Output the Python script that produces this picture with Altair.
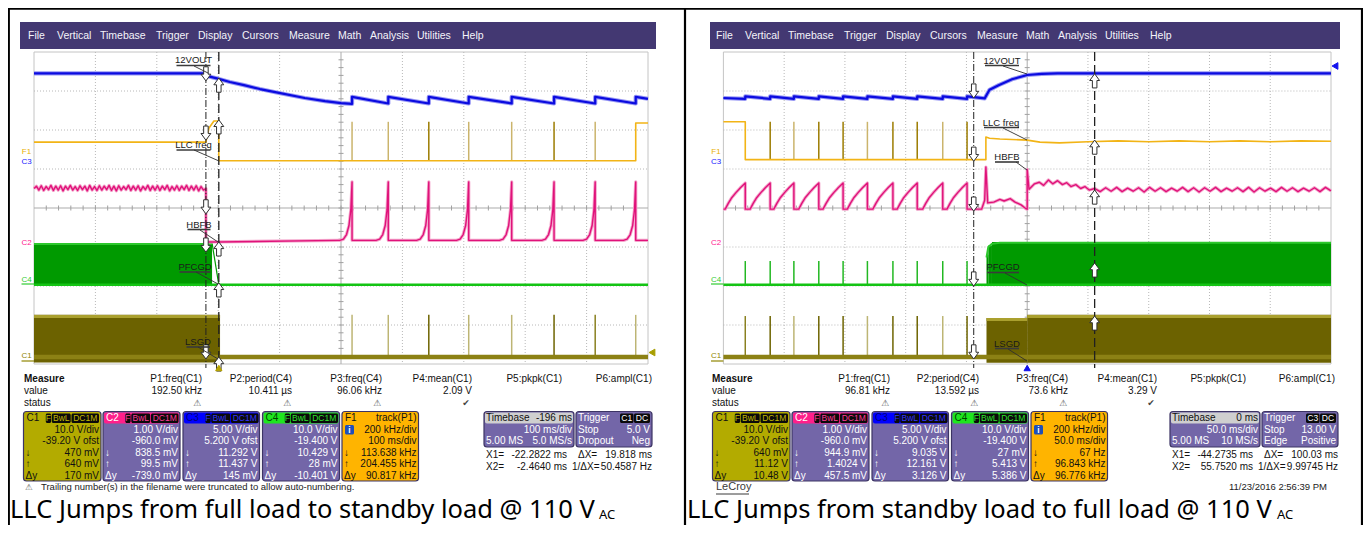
import altair as alt
import pandas as pd

# ===================== values =====================
# Scope traces in screen divisions: x 0..10 (left -> right), y 0..8 (bottom -> top)
BURST_L = [5.18, 5.77, 6.43, 7.08, 7.78, 8.47, 9.14, 9.80]
BURST_R = [0.36, 0.77, 1.16, 1.57, 1.97, 2.37, 2.79, 3.19, 3.61, 4.01]
CURSOR_L = [2.80, 3.01]
CURSOR_R = [4.12, 6.11]

# C3 blue : 12VOUT
BLUE_L_X = [0, 2.80, 2.83, 3.01, 3.19, 3.42, 3.68, 3.99, 4.41, 4.74, 5.00, 5.18, 5.18, 5.77, 5.77,
            6.43, 6.43, 7.08, 7.08, 7.78, 7.78, 8.47, 8.47, 9.14, 9.14, 9.80, 9.80, 10.0]
BLUE_L_Y = [7.45, 7.45, 7.38, 7.31, 7.23, 7.15, 7.05, 6.95, 6.82, 6.74, 6.69, 6.67, 6.85, 6.68, 6.85,
            6.68, 6.85, 6.68, 6.85, 6.68, 6.85, 6.68, 6.85, 6.68, 6.85, 6.68, 6.85, 6.80]
BLUE_R_X = [0, 0.36, 0.36, 0.77, 0.77, 1.16, 1.16, 1.57, 1.57, 1.97, 1.97, 2.37, 2.37, 2.79, 2.79,
            3.19, 3.19, 3.61, 3.61, 4.01, 4.01, 4.30, 4.38, 4.53, 4.75, 5.00, 5.24, 5.50, 10.0]
BLUE_R_Y = [6.82, 6.80, 6.86, 6.80, 6.86, 6.80, 6.86, 6.80, 6.86, 6.80, 6.86, 6.80, 6.86, 6.80, 6.86,
            6.80, 6.86, 6.80, 6.86, 6.80, 6.86, 6.81, 7.03, 7.15, 7.30, 7.41, 7.44, 7.45, 7.45]

# F1 yellow : LLC freq
YEL_L_X = [0, 2.80, 2.85, 2.93, 3.01, 3.01, 9.80, 9.80, 10.0]
YEL_L_Y = [5.69, 5.69, 6.05, 6.23, 6.23, 5.21, 5.21, 6.18, 6.18]
YEL_R_X = [0, 0.36, 0.36, 4.32, 4.32, 4.38, 4.55, 5.00, 5.21, 5.53, 6.0, 6.5, 7.0, 7.5, 8.0, 8.5, 9.0, 9.5, 10.0]
YEL_R_Y = [6.21, 6.21, 5.24, 5.24, 5.82, 5.79, 5.77, 5.74, 5.69, 5.67, 5.70, 5.72, 5.70, 5.72, 5.70, 5.72, 5.70, 5.72, 5.71]
YEL_SPIKE_L = (5.21, 6.21)
YEL_SPIKE_R = (5.24, 6.21)
YEL_SPIKE_L_C = ["#cbb46c", "#cbb46c", "#9c7c00", "#cbb46c", "#cbb46c", "#9c7c00", "#cbb46c"]
YEL_SPIKE_R_C = ["#9c7c00", "#cbb46c", "#9c7c00", "#9c7c00", "#cbb46c", "#9c7c00", "#9c7c00", "#cbb46c", "#9c7c00"]

# C2 magenta : HBFB
MAG_L_OSC = [4.50, 4.56, 4.46, 4.57, 4.45, 4.55, 4.47, 4.58, 4.45, 4.56, 4.46, 4.57, 4.44, 4.56, 4.47, 4.58,
             4.46, 4.55, 4.45, 4.57, 4.47, 4.56, 4.44, 4.58, 4.46, 4.55, 4.45, 4.57, 4.46, 4.56, 4.47, 4.58,
             4.45, 4.56, 4.44, 4.57, 4.46, 4.55, 4.47, 4.58, 4.45, 4.56, 4.46, 4.57, 4.44, 4.55, 4.47, 4.58,
             4.45, 4.56, 4.46, 4.57, 4.45, 4.56, 4.47, 4.58, 4.44, 4.55, 4.46, 4.57, 4.45, 4.56, 4.47, 4.58,
             4.45, 4.56, 4.46, 4.57, 4.44, 4.55, 4.46, 4.50]
MAG_L_MID_X = [2.80, 3.01, 4.95]
MAG_L_MID_Y = [3.13, 3.13, 3.17]
FIN_L_DX = [-0.20, -0.14, -0.09, -0.05, -0.02, 0.0, 0.0]
FIN_L_Y = [3.17, 3.20, 3.32, 3.55, 3.95, 4.67, 3.17]
MAG_L_END = (10.0, 3.17)

FIN_R_DX = [-0.33, -0.28, -0.22, -0.15, -0.08, 0.0, 0.0]
FIN_R_Y = [3.97, 4.12, 4.27, 4.40, 4.52, 4.64, 3.97]
MAG_R_START = (0.0, 3.97)
MAG_R_MID_X = [4.25, 4.30, 4.32, 4.35, 4.45, 4.55, 4.62, 4.72, 4.80, 4.90, 4.98, 5.00, 5.00, 5.03,
               5.12, 5.20, 5.27, 5.35, 5.42, 5.50, 5.58, 5.65, 5.72, 5.80, 5.88, 5.95, 6.02]
MAG_R_MID_Y = [3.97, 4.20, 5.05, 4.13, 4.15, 4.22, 4.18, 4.24, 4.15, 4.08, 3.98, 3.97, 4.99, 4.48,
               4.62, 4.66, 4.58, 4.72, 4.62, 4.70, 4.60, 4.65, 4.55, 4.60, 4.50, 4.55, 4.46]
MAG_R_RIP = [4.50, 4.42, 4.52, 4.43, 4.53, 4.42, 4.51, 4.43, 4.52, 4.41, 4.53, 4.43, 4.52, 4.42, 4.51,
             4.43, 4.53, 4.42, 4.52, 4.41, 4.52, 4.43, 4.53, 4.42, 4.51, 4.43, 4.52, 4.42, 4.53, 4.41,
             4.52, 4.43, 4.51, 4.42, 4.53, 4.43, 4.52, 4.42, 4.51, 4.43, 4.52, 4.42, 4.53, 4.44]

# C4 green : PFCGD  (bands: x0, x1, y_bottom, y_top)
GRN_BANDS_L = [(0.0, 2.90, 2.00, 3.10)]
GRN_BANDS_R = [(4.33, 4.36, 2.00, 2.80), (4.36, 4.42, 2.00, 3.04), (4.42, 10.0, 2.00, 3.13)]
GRN_EDGE_R_X = [4.33, 4.36, 4.42, 4.55, 10.0]
GRN_EDGE_R_Y = [2.75, 3.02, 3.10, 3.13, 3.13]
GRN_LINE = 2.03
GRN_SPIKE_R = 2.64

# C1 olive : LSGD
OLV_BANDS_L = [(0.0, 3.03, 0.04, 1.26)]
OLV_BANDS_R = [(4.33, 5.00, 0.03, 1.18), (5.00, 10.0, 0.03, 1.26)]
OLV_LINE = 0.18
OLV_SPIKE_L = 1.26
OLV_SPIKE_R = 1.23
OLV_SPIKE_L_C = ["#bdb574", "#bdb574", "#6e6400", "#bdb574", "#bdb574", "#6e6400", "#8a8020", "#bdb574"]
OLV_SPIKE_R_C = ["#8a8020", "#6e6400", "#bdb574", "#6e6400", "#6e6400", "#bdb574", "#6e6400", "#6e6400", "#bdb574", "#6e6400"]

# cursor arrow markers (y in divisions): blue, yellow, magenta, green, olive
ARR_L_DN = [7.44, 5.92, 4.03, 3.05, 0.31]
ARR_L_UP = [7.15, 6.08, 2.95, 1.90, 0.00]
ARR_R_DN = [7.00, 5.38, 4.10, 2.18, 0.31]
ARR_R_UP = [7.26, 5.56, 4.28, 2.41, 1.05]

# ------------- texts -------------
MENU = ["File", "Vertical", "Timebase", "Trigger", "Display", "Cursors", "Measure", "Math",
        "Analysis", "Utilities", "Help"]
MEAS_HDR = ["P1:freq(C1)", "P2:period(C4)", "P3:freq(C4)", "P4:mean(C1)", "P5:pkpk(C1)", "P6:ampl(C1)"]
VAL = {"L": ["192.50 kHz", "10.411 µs", "96.06 kHz", "2.09 V"],
       "R": ["96.81 kHz", "13.592 µs", "73.6 kHz", "3.29 V"]}
BOXES = {
    "L": {"C1": ["10.0 V/div", "-39.20 V ofst", "470 mV", "640 mV", "170 mV"],
          "C2": ["1.00 V/div", "-960.0 mV", "838.5 mV", "99.5 mV", "-739.0 mV"],
          "C3": ["5.00 V/div", "5.200 V ofst", "11.292 V", "11.437 V", "145 mV"],
          "C4": ["10.0 V/div", "-19.400 V", "10.429 V", "28 mV", "-10.401 V"],
          "F1": ["200 kHz/div", "100 ms/div", "113.638 kHz", "204.455 kHz", "90.817 kHz"]},
    "R": {"C1": ["10.0 V/div", "-39.20 V ofst", "640 mV", "11.12 V", "10.48 V"],
          "C2": ["1.00 V/div", "-960.0 mV", "944.9 mV", "1.4024 V", "457.5 mV"],
          "C3": ["5.00 V/div", "5.200 V ofst", "9.035 V", "12.161 V", "3.126 V"],
          "C4": ["10.0 V/div", "-19.400 V", "27 mV", "5.413 V", "5.386 V"],
          "F1": ["200 kHz/div", "50.0 ms/div", "67 Hz", "96.843 kHz", "96.776 kHz"]},
}
TB = {"L": ["-196 ms", "100 ms/div", "5.00 MS", "5.0 MS/s"], "R": ["0 ms", "50.0 ms/div", "5.00 MS", "10 MS/s"]}
TRIG = {"L": ["C1", "DC", "Stop", "5.0 V", "Dropout", "Neg"], "R": ["C3", "DC", "Stop", "13.00 V", "Edge", "Positive"]}
CURS = {"L": ["-22.2822 ms", "19.818 ms", "-2.4640 ms", "50.4587 Hz"],
        "R": ["-44.2735 ms", "100.03 ms", "55.7520 ms", "9.99745 Hz"]}
CAPTION = {"L": "LLC Jumps from full load to standby load @ 110 V",
           "R": "LLC Jumps from standby load to full load @ 110 V"}
TRACE_LABELS = ["12VOUT", "LLC freq", "HBFB", "PFCGD", "LSGD"]

# ===================== layout =====================
UI = "Liberation Sans Narrow, Liberation Sans, Arial, sans-serif"
CAPF = "Noto Sans"
XS = alt.Scale(domain=[8, 1363], nice=False, zero=False)
YS = alt.Scale(domain=[525, 8], nice=False, zero=False)
GRID = {"L": (34.0, 648.0), "R": (723.4, 1331.0)}
GT, GB = 52.0, 364.0


def gx(p, v):
    a, b = GRID[p]
    return a + v * (b - a) / 10.0


def gy(v):
    return GB - v * (GB - GT) / 8.0


layers = []
texts = []
X = lambda: alt.X("x:Q", scale=XS, axis=None)
Y = lambda: alt.Y("y:Q", scale=YS, axis=None)


def rects(rows, **mk):
    df = pd.DataFrame(rows, columns=["x", "x2", "y", "y2", "f"])
    layers.append(alt.Chart(df).mark_rect(**mk).encode(
        x=X(), x2="x2:Q", y=Y(), y2="y2:Q", fill=alt.Fill("f:N", scale=None)))


def rules(rows, color, width=1.0, dash=None):
    df = pd.DataFrame(rows, columns=["x", "y", "x2", "y2"])
    mk = dict(color=color, strokeWidth=width)
    if dash:
        mk["strokeDash"] = dash
    layers.append(alt.Chart(df).mark_rule(**mk).encode(x=X(), y=Y(), x2="x2:Q", y2="y2:Q"))


def crules(rows, width=1.0):
    df = pd.DataFrame(rows, columns=["x", "y", "x2", "y2", "c"])
    layers.append(alt.Chart(df).mark_rule(strokeWidth=width).encode(
        x=X(), y=Y(), x2="x2:Q", y2="y2:Q", color=alt.Color("c:N", scale=None)))


def line(xs, ys, color, width, opacity=1.0):
    df = pd.DataFrame({"x": xs, "y": ys, "i": list(range(len(xs)))})
    layers.append(alt.Chart(df).mark_line(color=color, strokeWidth=width, opacity=opacity,
                                          strokeJoin="round").encode(x=X(), y=Y(), order="i:Q"))


def points(rows, shape, size, fill, stroke, sw=1.0):
    df = pd.DataFrame(rows, columns=["x", "y"])
    layers.append(alt.Chart(df).mark_point(shape=shape, size=size, filled=True, fill=fill,
                                           stroke=stroke, strokeWidth=sw, opacity=1).encode(x=X(), y=Y()))


def bands(p, spec, color):
    rects([(gx(p, a), gx(p, b), gy(lo), gy(hi), color) for a, b, lo, hi in spec])


def T(x, y, t, c="#000000", s=10.0, al="left", fw="normal", ff=UI, bl="middle"):
    texts.append(dict(x=x, y=y, t=t, c=c, s=s, al=al, fw=fw, ff=ff, bl=bl))


# ---------- outer frames ----------
rules([(8, 8.8, 1363, 8.8)], "#000000", 1.8)
rules([(8.8, 8, 8.8, 525), (685, 6, 685, 525), (1362, 8, 1362, 525)], "#000000", 2.2)

ARROW_DN = "M-0.32,-1L0.32,-1L0.32,0.05L0.7,0.05L0,1L-0.7,0.05L-0.32,0.05Z"
ARROW_UP = "M-0.32,1L0.32,1L0.32,-0.05L0.7,-0.05L0,-1L-0.7,-0.05L-0.32,-0.05Z"

for p in ("L", "R"):
    g0, g1 = GRID[p]
    # menu bar
    mx0, mx1 = (20, 656) if p == "L" else (710, 1340)
    rects([(mx0, mx1, 22, 49, "#433872")])
    MENU_X = [28, 57, 100, 156, 198, 242, 289, 338, 370, 417, 462]
    for t, x in zip(MENU, MENU_X):
        T(x + (0 if p == "L" else 688), 36, t, "#f4f4fa", 10.5)

    # graticule
    rects([(g0, g1, GT, GB, "#ffffff")], stroke="#c4c4c4", strokeWidth=1)
    rules([(gx(p, k), GT, gx(p, k), GB) for k in (1, 2, 3, 4, 6, 7, 8, 9)], "#b8b8b8", 1, [1, 2])
    rules([(g0, gy(k), g1, gy(k)) for k in (1, 2, 3, 5, 6, 7)], "#b8b8b8", 1, [1, 2])
    rules([(gx(p, 5), GT, gx(p, 5), GB), (g0, gy(4), g1, gy(4))], "#ababab", 1)
    ticks = [(gx(p, 5) - 2.5, gy(k * 0.2), gx(p, 5) + 2.5, gy(k * 0.2)) for k in range(1, 40)]
    ticks += [(gx(p, k * 0.2), gy(4) - 2.5, gx(p, k * 0.2), gy(4) + 2.5) for k in range(1, 50)]
    rules(ticks, "#a0a0a0", 1)

    burst = BURST_L if p == "L" else BURST_R
    # ----- olive C1 (LSGD) -----
    ob = OLV_BANDS_L if p == "L" else OLV_BANDS_R
    bands(p, ob, "#6c6200")
    rules([(gx(p, a), gy(hi - 0.04), gx(p, b), gy(hi - 0.04)) for a, b, lo, hi in ob], "#aaa02e", 3)
    if p == "L":
        crules([(gx(p, b), gy(OLV_LINE), gx(p, b), gy(OLV_SPIKE_L), c) for b, c in zip(burst, OLV_SPIKE_L_C)], 1.5)
    else:
        crules([(gx(p, b), gy(OLV_LINE), gx(p, b), gy(OLV_SPIKE_R), c) for b, c in zip(burst, OLV_SPIKE_R_C)], 1.5)
    line([gx(p, 0), gx(p, 10)], [gy(OLV_LINE), gy(OLV_LINE)], "#8c8114", 4.5)

    # ----- green C4 (PFCGD) -----
    if p == "L":
        bands(p, GRN_BANDS_L, "#009a00")
        rules([(gx(p, 0), gy(3.08), gx(p, 2.90), gy(3.08))], "#2cc82c", 2)
        rules([(gx(p, 2.90), gy(3.10), gx(p, 3.01), gy(GRN_LINE))], "#009a00", 1.2)
    else:
        rules([(gx(p, b), gy(GRN_LINE), gx(p, b), gy(GRN_SPIKE_R)) for b in burst], "#22b822", 1.5)
        bands(p, GRN_BANDS_R, "#009a00")
        line([gx(p, v) for v in GRN_EDGE_R_X], [gy(v - 0.02) for v in GRN_EDGE_R_Y], "#2cc82c", 2)
    line([gx(p, 0), gx(p, 10)], [gy(GRN_LINE), gy(GRN_LINE)], "#14c414", 2.5)

    # ----- yellow F1 (LLC freq) -----
    if p == "L":
        crules([(gx(p, b), gy(YEL_SPIKE_L[0]), gx(p, b), gy(YEL_SPIKE_L[1]), c)
                for b, c in zip(burst[:-1], YEL_SPIKE_L_C)], 1.5)
        line([gx(p, v) for v in YEL_L_X], [gy(v) for v in YEL_L_Y], "#f2b416", 1.6)
    else:
        crules([(gx(p, b), gy(YEL_SPIKE_R[0]), gx(p, b), gy(YEL_SPIKE_R[1]), c)
                for b, c in zip(burst[1:], YEL_SPIKE_R_C)], 1.5)
        line([gx(p, v) for v in YEL_R_X], [gy(v) for v in YEL_R_Y], "#f2b416", 1.6)

    # ----- magenta C2 (HBFB) -----
    if p == "L":
        n = len(MAG_L_OSC)
        mxs = [CURSOR_L[0] * k / (n - 1) for k in range(n)] + MAG_L_MID_X
        mys = MAG_L_OSC + MAG_L_MID_Y
        for b in burst:
            mxs += [b + d for d in FIN_L_DX]
            mys += FIN_L_Y
        mxs.append(MAG_L_END[0]); mys.append(MAG_L_END[1])
    else:
        mxs = [MAG_R_START[0]]; mys = [MAG_R_START[1]]
        for b in burst:
            mxs += [b + d for d in FIN_R_DX]
            mys += FIN_R_Y
        mxs += MAG_R_MID_X; mys += MAG_R_MID_Y
        n = len(MAG_R_RIP)
        mxs += [CURSOR_R[1] + (10 - CURSOR_R[1]) * k / (n - 1) for k in range(n)]
        mys += MAG_R_RIP
    line([gx(p, v) for v in mxs], [gy(v) for v in mys], "#f4a6cc", 3.2)
    line([gx(p, v) for v in mxs], [gy(v) for v in mys], "#e0127a", 1.4)

    # ----- blue C3 (12VOUT) -----
    bx, byy = (BLUE_L_X, BLUE_L_Y) if p == "L" else (BLUE_R_X, BLUE_R_Y)
    line([gx(p, v) for v in bx], [gy(v) for v in byy], "#9898f4", 4.2)
    line([gx(p, v) for v in bx], [gy(v) for v in byy], "#0b0be0", 2.2)

    # ----- cursors -----
    cur = CURSOR_L if p == "L" else CURSOR_R
    rules([(gx(p, cur[0]), GT, gx(p, cur[0]), GB + 4)], "#202020", 1, [7, 2, 1, 2])
    rules([(gx(p, cur[1]), GT, gx(p, cur[1]), GB + 4)], "#202020", 1.3, [9, 4])
    dn = ARR_L_DN if p == "L" else ARR_R_DN
    up = ARR_L_UP if p == "L" else ARR_R_UP
    points([(gx(p, cur[0]), gy(v)) for v in dn], ARROW_DN, 200, "#ffffff", "#303030", 1)
    points([(gx(p, cur[1]), gy(v)) for v in up], ARROW_UP, 200, "#ffffff", "#303030", 1)

    # ----- trace labels with leaders -----
    LBL = {
        "L": [(193.5, 60, 176.5, 210.5, 65.5, (194, 66, 208, 73)),
              (193.5, 145, 176.5, 210.5, 150, (194, 150, 219, 161)),
              (199, 225, 187.5, 210.5, 229.5, (200, 230, 218, 242)),
              (195, 267, 179.5, 210.5, 272, (196, 272, 218, 284)),
              (198, 342, 186.5, 210, 347, (198, 347, 218, 359))],
        "R": [(1002, 61, 985, 1019, 65.5, (1003, 66, 1027, 74)),
              (1001, 123, 984, 1019, 127.5, (1003, 128, 1027, 140)),
              (1007, 157, 995, 1019, 162, (1016, 162, 1027, 170)),
              (1003, 267, 987, 1019, 272.5, (1005, 273, 1027, 285)),
              (1007, 343.5, 995, 1019, 348.5, (1008, 349, 1027, 361))],
    }
    for name, (cx, ty, u0, u1, uy, ld) in zip(TRACE_LABELS, LBL[p]):
        T(cx, ty, name, "#1a1a1a", 9.5, "center")
        rules([(u0, uy, u1, uy)], "#3a3a3a", 1.6)
        rules([ld], "#303030", 0.9)

    # channel markers on the left edge
    lx = 26.5 if p == "L" else 716
    for t, c, yy in [("F1", "#e8b000", 152), ("C3", "#1a1aff", 162), ("C2", "#ff2090", 243),
                     ("C4", "#33cc33", 280), ("C1", "#8f8500", 356)]:
        T(lx, yy, t, c, 8, "center")
    rules([(lx - 5, 284, g0, 284)], "#33cc33", 1.2)
    rules([(lx - 5, 361, g0, 361)], "#8f8500", 1.2)

    # trigger / level markers
    if p == "L":
        points([(gx(p, 10) + 4, 352.5)], "triangle-left", 45, "#a89e00", "#a89e00")
        points([(gx(p, CURSOR_L[1]), 368)], "triangle-up", 40, "#b8a400", "#b8a400")
    else:
        points([(gx(p, 10) + 4, 66)], "triangle-left", 45, "#1010ee", "#1010ee")
        points([(gx(p, 5), 368)], "triangle-up", 40, "#1010ee", "#1010ee")

    # ----- measure table -----
    mdx = 0 if p == "L" else 688
    T(24 + mdx, 379, "Measure", "#111111", 10, "left", "bold")
    T(24 + mdx, 391, "value", "#111111", 10)
    T(24 + mdx, 403, "status", "#111111", 10)
    MEAS_X = [202, 292, 382, 472, 562, 652]
    MDX = [0, 0, 0, 0, 0, 0] if p == "L" else [688, 687, 686, 685, 684, 683]
    for i, h in enumerate(MEAS_HDR):
        T(MEAS_X[i] + MDX[i], 379, h, "#111111", 10, "right")
    for i, v in enumerate(VAL[p]):
        T(MEAS_X[i] + MDX[i], 391, v, "#111111", 10, "right")
    for i in range(3):
        T(MEAS_X[i] + MDX[i] - 5, 403, "⚠", "#555555", 9, "center", ff="DejaVu Sans")
    T(MEAS_X[3] + MDX[3] - 6, 403, "✔", "#444444", 9, "center", ff="DejaVu Sans")

    # ----- channel boxes -----
    bdx = 0 if p == "L" else 689
    BOX_X = [(23.5, 101.0), (103.0, 180.0), (183.0, 259.5), (262.5, 339.5), (342.0, 418.5)]
    BT, BH, BB = 411.5, 423.5, 481.0
    ROW_Y = [429.5, 441.0, 452.5, 464.0, 475.5]
    spec = [("C1", "#b3ab00", "#b3ab00", "#111111", "#111111", "#c2b800"),
            ("C2", "#7366a8", "#ff1f8a", "#ffffff", "#ffffff", "#ff3c9a"),
            ("C3", "#7366a8", "#0000ff", "#00007a", "#ffffff", "#3434ff"),
            ("C4", "#7366a8", "#1ee61e", "#004400", "#ffffff", "#2ee62e"),
            ("F1", "#ffb400", "#ffb400", "#111111", "#111111", None)]
    body, hdr, lab = [], [], []
    for (x0, x1), (nm, fb, fh, ch, cb, cl) in zip(BOX_X, spec):
        x0 += bdx; x1 += bdx
        body.append((x0, x1, BT, BB, fb))
        hdr.append((x0 + 1, x1 - 1, BT + 1, BH, fh))
        T(x0 + 3, 417.5, nm, ch, 10)
        if cl:
            for (a, b), t in zip([(22.3, 27.6), (28.3, 47.2), (48.0, 75.5)], ["F", "BwL", "DC1M"]):
                lab.append((x0 + a, x0 + b, BT + 2, BH - 0.5, "#0a0a0a"))
                T(x0 + (a + b) / 2, 417.5, t, cl, 8.5, "center")
        else:
            T(x1 - 2, 417.5, "track(P1)", "#111111", 10, "right")
        vals = BOXES[p][nm]
        for yy, v in zip(ROW_Y, vals):
            T(x1 - 2, yy, v, cb, 10, "right")
        for yy, s in zip(ROW_Y[2:], ["↓", "↑", "Δy"]):
            T(x0 + 2, yy, s, cb, 10)
        if nm == "F1":
            lab.append((x0 + 3, x0 + 12, 425, 434.5, "#1f4fb8"))
            T(x0 + 7.5, 429.8, "i", "#ffffff", 8.5, "center", "bold")
    rects(body, stroke="#3c3464", strokeWidth=1.2, cornerRadius=3)
    rects(hdr, cornerRadius=2)
    rects(lab, cornerRadius=1.5)

    # ----- timebase / trigger -----
    tdx = 0 if p == "L" else 686
    tb0, tb1, tr0, tr1 = 484 + tdx, 574 + tdx, 576 + tdx, 652 + tdx
    rects([(tb0, tb1, BT, 447, "#7366a8"), (tr0, tr1, BT, 447, "#7366a8")],
          stroke="#3c3464", strokeWidth=1.2, cornerRadius=3)
    rects([(tb0 + 1, tb1 - 1, BT + 1, BH, "#cfcfcf")], cornerRadius=2)
    rects([(tr1 - 32, tr1 - 18.5, BT + 2, BH - 0.5, "#0a0a0a"), (tr1 - 18, tr1 - 2, BT + 2, BH - 0.5, "#0a0a0a")],
          cornerRadius=1.5)
    tb = TB[p]
    T(tb0 + 2, 417.5, "Timebase", "#111111", 10)
    T(tb1 - 2, 417.5, tb[0], "#111111", 10, "right")
    T(tb1 - 2, 429.5, tb[1], "#ffffff", 10, "right")
    T(tb0 + 2, 441, tb[2], "#ffffff", 10)
    T(tb1 - 2, 441, tb[3], "#ffffff", 10, "right")
    tr = TRIG[p]
    T(tr0 + 2, 417.5, "Trigger", "#ffffff", 10)
    T(tr1 - 25.2, 417.5, tr[0], "#ffffff", 8.5, "center")
    T(tr1 - 10, 417.5, tr[1], "#ffffff", 8.5, "center")
    T(tr0 + 2, 429.5, tr[2], "#ffffff", 10)
    T(tr1 - 2, 429.5, tr[3], "#ffffff", 10, "right")
    T(tr0 + 2, 441, tr[4], "#ffffff", 10)
    T(tr1 - 2, 441, tr[5], "#ffffff", 10, "right")
    cu = CURS[p]
    T(486 + tdx, 455, "X1=", "#111111", 10)
    T(567 + tdx, 455, cu[0], "#111111", 10, "right")
    T(578 + tdx, 455, "ΔX=", "#111111", 10)
    T(652 + tdx, 455, cu[1], "#111111", 10, "right")
    T(486 + tdx, 467, "X2=", "#111111", 10)
    T(567 + tdx, 467, cu[2], "#111111", 10, "right")
    T(572 + tdx, 467, "1/ΔX=", "#111111", 10)
    T(652 + tdx, 467, cu[3], "#111111", 10, "right")

    # ----- footer -----
    if p == "L":
        T(29, 487, "⚠", "#555555", 8.5, "center", ff="DejaVu Sans")
        T(41, 487, "Trailing number(s) in the filename were truncated to allow auto-numbering.", "#222222", 9.5)
        T(10, 518, CAPTION["L"], "#000000", 25.5, "left", ff=CAPF, bl="alphabetic")
        T(599, 519, "AC", "#000000", 13, "left", ff=CAPF, bl="alphabetic")
    else:
        T(716, 487, "LeCroy", "#3a3a3a", 11)
        rules([(716, 494, 749, 494)], "#3a3a3a", 1)
        T(1327, 487, "11/23/2016 2:56:39 PM", "#222222", 9.5, "right")
        T(687, 518, CAPTION["R"], "#000000", 25.5, "left", ff=CAPF, bl="alphabetic")
        T(1277, 519, "AC", "#000000", 13, "left", ff=CAPF, bl="alphabetic")

# ---------- text layers ----------
tdf = pd.DataFrame(texts)
for (al, fw, ff, bl), grp in tdf.groupby(["al", "fw", "ff", "bl"], sort=False):
    layers.append(alt.Chart(grp.reset_index(drop=True)).mark_text(
        align=al, baseline=bl, font=ff, fontWeight=fw).encode(
        x=X(), y=Y(), text="t:N", color=alt.Color("c:N", scale=None), size=alt.Size("s:Q", scale=None)))

chart = alt.layer(*layers).properties(
    width=1355, height=517, padding=0, autosize=alt.AutoSizeParams(type="none"),
    background="#ffffff").configure_view(stroke=None)

chart.save("out.html", embed_options={"renderer": "svg", "actions": False})
